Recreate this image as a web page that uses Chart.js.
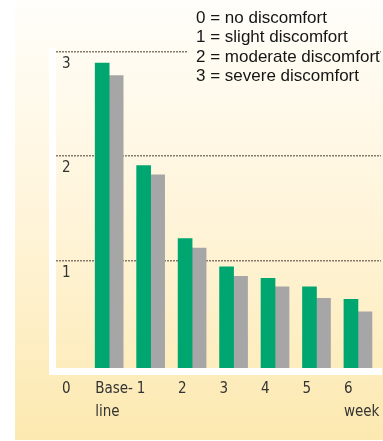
<!DOCTYPE html>
<html>
<head>
<meta charset="utf-8">
<script src="https://cdn.jsdelivr.net/npm/chart.js@4"></script>
<style>
  html, body { margin: 0; padding: 0; background: #ffffff; }
  #wrap { position: relative; width: 383px; height: 441px; }
</style>
</head>
<body>
<div id="wrap"><canvas id="chart"></canvas></div>
<script>
// Week labels along the bottom (multi-line where the label wraps)
const weeks = [['Base-', 'line'], '1', '2', '3', '4', '5', ['6', 'week']];
// Mean discomfort score per week, two groups
const groupGreen = [2.89, 1.91, 1.21, 0.94, 0.83, 0.75, 0.63];
const groupGrey = [2.77, 1.82, 1.12, 0.85, 0.75, 0.64, 0.51];
// Score ticks on the vertical axis
const scoreTicks = [0, 1, 2, 3];
// Key for the score scale
const scoreKey = [
  '0 = no discomfort',
  '1 = slight discomfort',
  '2 = moderate discomfort',
  '3 = severe discomfort'
];

const axisFont = {
  family: "'Liberation Sans Narrow', 'DejaVu Sans Condensed', 'Roboto Condensed', sans-serif",
  size: 15,
  lineHeight: '23px'
};

let panelGradient = null;
function getPanelGradient(ctx) {
  if (!panelGradient) {
    panelGradient = ctx.createLinearGradient(0, 0, 0, 440);
    panelGradient.addColorStop(0, '#fffefa');
    panelGradient.addColorStop(0.5, '#fff4d9');
    panelGradient.addColorStop(1, '#fce9b0');
  }
  return panelGradient;
}

// Cream-to-yellow backdrop panel
const panelPlugin = {
  id: 'panel',
  beforeDraw(chart) {
    const ctx = chart.ctx;
    ctx.save();
    ctx.fillStyle = getPanelGradient(ctx);
    ctx.fillRect(15, 0, chart.width - 15, 440);
    ctx.restore();
  }
};

// Score key in the top right corner
const keyPlugin = {
  id: 'scoreKey',
  afterDraw(chart) {
    const ctx = chart.ctx;
    ctx.save();
    ctx.fillStyle = getPanelGradient(ctx);
    ctx.fillRect(188, 44, 190, 16);
    ctx.font = "17px 'Liberation Sans', Arial, sans-serif";
    ctx.fillStyle = '#151515';
    ctx.textAlign = 'left';
    ctx.textBaseline = 'middle';
    scoreKey.forEach((line, i) => {
      ctx.fillText(line, 196, 18.5 + i * 19.3);
    });
    ctx.restore();
  }
};

const toPoints = arr => arr.map((v, i) => ({ x: i, y: v }));

new Chart(document.getElementById('chart'), {
  type: 'bar',
  data: {
    datasets: [
      {
        label: 'Group 1',
        data: toPoints(groupGreen),
        backgroundColor: '#00a66f',
        borderWidth: 0,
        barThickness: 14,
        base: -0.06
      },
      {
        label: 'Group 2',
        data: toPoints(groupGrey),
        backgroundColor: '#a6a6a6',
        borderWidth: 0,
        barThickness: 14,
        base: -0.06
      }
    ]
  },
  options: {
    responsive: true,
    maintainAspectRatio: false,
    animation: false,
    layout: { padding: { left: 33.5, right: 2, top: 51.5, bottom: 11.5 } },
    plugins: {
      legend: { display: false },
      title: { display: false },
      tooltip: { enabled: false }
    },
    scales: {
      x: {
        type: 'linear',
        offset: false,
        min: -1.367,
        max: 6.556,
        afterBuildTicks: s => { s.ticks = weeks.map((_, i) => ({ value: i })); },
        afterFit: s => { s.paddingLeft = 0; s.paddingRight = 0; },
        grid: { display: false, drawTicks: false, offset: false },
        border: { display: true, color: '#ffffff', width: 7, z: 1 },
        ticks: {
          callback: v => weeks[v],
          align: 'start',
          labelOffset: -14,
          padding: 6,
          maxRotation: 0,
          autoSkip: false,
          color: '#333333',
          font: axisFont
        }
      },
      y: {
        min: -0.06,
        max: 3,
        afterBuildTicks: s => { s.ticks = scoreTicks.map(v => ({ value: v })); },
        afterFit: s => { s.paddingTop = 0; s.paddingBottom = 0; },
        grid: {
          drawTicks: false,
          color: c => (c.tick && c.tick.value === 0) ? 'rgba(0,0,0,0)' : '#857b6c',
          lineWidth: 1.5
        },
        border: { display: true, color: '#ffffff', width: 7, z: 1, dash: [2, 1] },
        ticks: {
          mirror: true,
          padding: 9.5,
          labelOffset: 12.5,
          callback: v => v === 0 ? ['', '0'] : String(v),
          color: '#333333',
          font: axisFont
        }
      }
    }
  },
  plugins: [panelPlugin, keyPlugin]
});
</script>
</body>
</html>
